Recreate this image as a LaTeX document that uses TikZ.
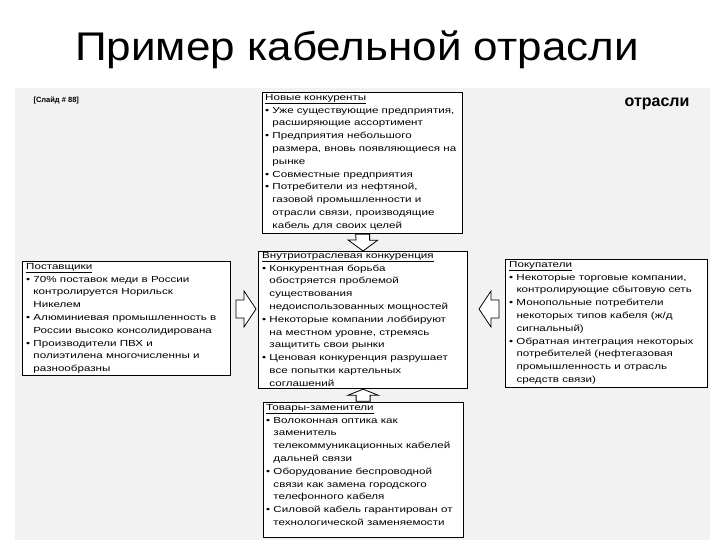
\documentclass[tikz,border=0pt]{standalone}
\usepackage{fontspec}
\setmainfont{Liberation Sans}
\newfontfamily\widefont[FakeStretch=1.32]{Liberation Sans}
\newfontfamily\titlefont[FakeStretch=1.1]{Liberation Sans}
\begin{document}
\begin{tikzpicture}[x=1pt,y=-1pt,
  box/.style={draw,line width=1.2pt,fill=white,anchor=north west,inner sep=0pt},
  txt/.style={anchor=north west,align=left,font=\widefont\fontsize{8.8}{12.8}\selectfont,inner sep=0pt},
  blk/.style={draw,fill=white,line width=0.8pt}]
\useasboundingbox (0,0) rectangle (720,540);
\fill[white] (0,0) rectangle (720,540);
\fill[black!5] (15,88) rectangle (710,540);
\node[font=\titlefont\fontsize{40}{44}\selectfont] (title) at (357,50) {Пример кабельной отрасли};
\node[font=\bfseries\fontsize{16}{18}\selectfont] (otr) at (657,104) {отрасли};
\node[font=\bfseries\fontsize{7.5}{8}\selectfont,anchor=west] (sl) at (30,100) {[Слайд \# 88]};
% boxes
\node[box,minimum width=200pt,minimum height=141pt] (top) at (262,92) {};
\node[box,minimum width=209pt,minimum height=137pt] (mid) at (258,251) {};
\node[box,minimum width=208pt,minimum height=114pt] (left) at (22,261) {};
\node[box,minimum width=202pt,minimum height=128pt] (right) at (505,259) {};
\node[box,minimum width=200pt,minimum height=135pt] (bot) at (263,402) {};
\node[txt] (ttop) at (265,94) {\underline{Новые конкуренты}\\
• Уже существующие предприятия,\\
\phantom{• }расширяющие ассортимент\\
• Предприятия небольшого\\
\phantom{• }размера, вновь появляющиеся на\\
\phantom{• }рынке\\
• Совместные предприятия\\
• Потребители из нефтяной,\\
\phantom{• }газовой промышленности и\\
\phantom{• }отрасли связи, производящие\\
\phantom{• }кабель для своих целей};
\node[txt] (tmid) at (262,252) {\underline{Внутриотраслевая конкуренция}\\
• Конкурентная борьба\\
\phantom{• }обостряется проблемой\\
\phantom{• }существования\\
\phantom{• }недоиспользованных мощностей\\
• Некоторые компании лоббируют\\
\phantom{• }на местном уровне, стремясь\\
\phantom{• }защитить свои рынки\\
• Ценовая конкуренция разрушает\\
\phantom{• }все попытки картельных\\
\phantom{• }соглашений};
\node[txt] (tleft) at (26,263) {\underline{Поставщики}\\
• 70\% поставок меди в России\\
\phantom{• }контролируется Норильск\\
\phantom{• }Никелем\\
• Алюминиевая промышленность в\\
\phantom{• }России высоко консолидирована\\
• Производители ПВХ и\\
\phantom{• }полиэтилена многочисленны и\\
\phantom{• }разнообразны};
\node[txt] (tright) at (509,261) {\underline{Покупатели}\\
• Некоторые торговые компании,\\
\phantom{• }контролирующие сбытовую сеть\\
• Монопольные потребители\\
\phantom{• }некоторых типов кабеля (ж/д\\
\phantom{• }сигнальный)\\
• Обратная интеграция некоторых\\
\phantom{• }потребителей (нефтегазовая\\
\phantom{• }промышленность и отрасль\\
\phantom{• }средств связи)};
\node[txt] (tbot) at (266,404) {\underline{Товары-заменители}\\
• Волоконная оптика как\\
\phantom{• }заменитель\\
\phantom{• }телекоммуникационных кабелей\\
\phantom{• }дальней связи\\
• Оборудование беспроводной\\
\phantom{• }связи как замена городского\\
\phantom{• }телефонного кабеля\\
• Силовой кабель гарантирован от\\
\phantom{• }технологической заменяемости};
% block arrows
\draw[blk] (top.south) ++(-7,0) -- ++(14,0) -- ++(0,6) -- ++(8,0) -- (mid.north) -- ++(-15,-11) -- ++(8,0) -- cycle;
\draw[blk] (mid.south) ++(-7,12) -- ++(14,0) -- ++(0,-6) -- ++(8,0) -- (mid.south) -- ++(-15,6) -- ++(8,0) -- cycle;
\draw[blk] (236,300) -- (244,300) -- (244,291) -- (256,309) -- (244,327) -- (244,318) -- (236,318) -- cycle;
\draw[blk] (499,300) -- (491,300) -- (491,291) -- (479,309) -- (491,327) -- (491,318) -- (499,318) -- cycle;
\end{tikzpicture}
\end{document}
